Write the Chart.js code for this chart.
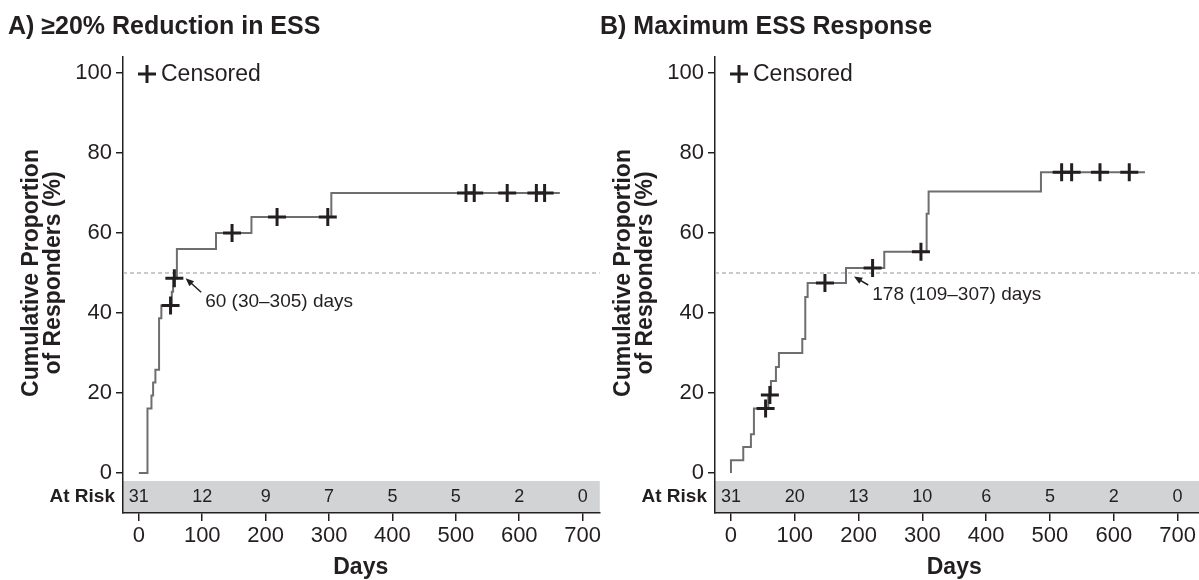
<!DOCTYPE html>
<html>
<head>
<meta charset="utf-8">
<script src="https://cdn.jsdelivr.net/npm/chart.js@4.4.1/dist/chart.umd.min.js"></script>
<style>
  html, body { margin: 0; padding: 0; background: #fff; }
  #wrap { position: relative; width: 1199px; height: 580px; overflow: hidden; }
  canvas { position: absolute; top: 0; }
  #chartA { left: 0; }
  #chartB { left: 600px; }
</style>
</head>
<body>
<div id="wrap">
  <canvas id="chartA" width="603" height="580"></canvas>
  <canvas id="chartB" width="599" height="580"></canvas>
</div>
<script>
// axis ticks
var xTicks = [0, 100, 200, 300, 400, 500, 600, 700];
var yTicks = [0, 20, 40, 60, 80, 100];

// A) >=20% reduction in ESS
var daysA = [0, 13.6, 19.9, 22.5, 26.1, 31.9, 35.5, 52, 54, 60, 121.7, 177.6, 303.6, 664];
var respA = [0, 16.1, 19.4, 22.6, 25.8, 38.7, 41.9, 45.3, 48.7, 56.0, 60.0, 64.0, 70.0, 70.0];
var censDaysA = [50, 56, 147, 218, 298, 516, 529, 581, 627, 640];
var censRespA = [41.9, 48.7, 60.0, 64.0, 64.0, 70.0, 70.0, 70.0, 70.0, 70.0];
var atRiskA = [31, 12, 9, 7, 5, 5, 2, 0];
var medianA = 60, ciA = [30, 305];

// B) maximum ESS response
var daysB = [0, 0, 19.3, 31.3, 36, 58.5, 62.7, 70.5, 75.2, 111.8, 116.5, 120.2, 180.3, 240.3, 306.7, 309.8, 485.9, 648.9];
var respB = [0, 3.2, 6.5, 9.7, 16.1, 19.5, 23.0, 26.5, 30.0, 33.5, 44.0, 47.5, 51.25, 55.3, 64.8, 70.4, 75.2, 75.2];
var censDaysB = [54.3, 61, 147.3, 222, 297.8, 518.3, 534, 578.4, 624.3];
var censRespB = [16.1, 19.5, 47.5, 51.25, 55.3, 75.2, 75.2, 75.2, 75.2];
var atRiskB = [31, 20, 13, 10, 6, 5, 2, 0];
var medianB = 178, ciB = [109, 307];

var medianLevel = 50;

var FONT = "'Liberation Sans', Arial, Helvetica, sans-serif";
var INK = '#231f20';

function toPoints(xs, ys) {
    return xs.map(function (v, i) { return { x: v, y: ys[i] }; });
}

function drawCross(ctx, x, y, r) {
    ctx.beginPath();
    ctx.moveTo(x - r, y); ctx.lineTo(x + r, y);
    ctx.moveTo(x, y - r); ctx.lineTo(x, y + r);
    ctx.stroke();
}

function makePanel(id, p) {
    var decor = {
        id: 'decor',
        beforeDraw: function (chart) {
            var ctx = chart.ctx, a = chart.chartArea;
            ctx.save();
            ctx.fillStyle = '#d1d3d4';
            ctx.fillRect(a.left, a.bottom - 32, a.right - a.left, 32);
            ctx.restore();
        },
        beforeDatasetsDraw: function (chart) {
            // dashed line at the median level
            var ctx = chart.ctx, a = chart.chartArea;
            var y = chart.scales.y.getPixelForValue(medianLevel);
            ctx.save();
            ctx.strokeStyle = '#939598';
            ctx.lineWidth = 1;
            ctx.setLineDash([4, 3]);
            ctx.beginPath();
            ctx.moveTo(a.left, y); ctx.lineTo(a.right, y);
            ctx.stroke();
            ctx.restore();
        },
        afterDraw: function (chart) {
            var ctx = chart.ctx, a = chart.chartArea;
            var xs = chart.scales.x, ys = chart.scales.y;
            ctx.save();
            ctx.fillStyle = INK;
            ctx.strokeStyle = INK;

            // panel title
            ctx.font = 'bold 25px ' + FONT;
            ctx.textAlign = 'left';
            ctx.textBaseline = 'middle';
            ctx.fillText(p.title, a.left - 115, 27);

            // legend
            ctx.lineWidth = 3;
            drawCross(ctx, a.left + 24, 74, 9);
            ctx.font = '23px ' + FONT;
            ctx.fillText('Censored', a.left + 38, 75);

            // y title
            ctx.save();
            ctx.translate(a.left - 80, ys.getPixelForValue(50));
            ctx.rotate(-Math.PI / 2);
            ctx.font = 'bold 23px ' + FONT;
            ctx.textAlign = 'center';
            ctx.fillText('Cumulative Proportion', 0, -11);
            ctx.fillText('of Responders (%)', 0, 11);
            ctx.restore();

            // x title
            ctx.font = 'bold 23px ' + FONT;
            ctx.textAlign = 'center';
            ctx.fillText('Days', xs.getPixelForValue(350), 568);

            // at risk row
            var rowY = a.bottom - 16;
            ctx.font = 'bold 19px ' + FONT;
            ctx.textAlign = 'right';
            ctx.fillText('At Risk', a.left - 8, rowY);
            ctx.font = '18px ' + FONT;
            ctx.textAlign = 'center';
            p.atRisk.forEach(function (n, i) {
                ctx.fillText(String(n), xs.getPixelForValue(xTicks[i]), rowY);
            });

            // median annotation
            var tip = [xs.getPixelForValue(p.arrow[0]), ys.getPixelForValue(p.arrow[1])];
            var tail = [xs.getPixelForValue(p.arrow[2]), ys.getPixelForValue(p.arrow[3])];
            var ang = Math.atan2(tip[1] - tail[1], tip[0] - tail[0]);
            ctx.lineWidth = 1.5;
            ctx.beginPath();
            ctx.moveTo(tail[0], tail[1]);
            ctx.lineTo(tip[0] - 5 * Math.cos(ang), tip[1] - 5 * Math.sin(ang));
            ctx.stroke();
            ctx.beginPath();
            ctx.moveTo(tip[0], tip[1]);
            ctx.lineTo(tip[0] - 9 * Math.cos(ang - 0.4), tip[1] - 9 * Math.sin(ang - 0.4));
            ctx.lineTo(tip[0] - 9 * Math.cos(ang + 0.4), tip[1] - 9 * Math.sin(ang + 0.4));
            ctx.closePath();
            ctx.fill();
            ctx.font = '19px ' + FONT;
            ctx.textAlign = 'left';
            ctx.fillText(p.median + ' (' + p.ci[0] + '\u2013' + p.ci[1] + ') days',
                tail[0] + 4, tail[1] + 10);
            ctx.restore();
        }
    };

    return new Chart(document.getElementById(id), {
        type: 'line',
        data: {
            datasets: [{
                data: toPoints(p.days, p.resp),
                order: 2,
                stepped: true,
                borderColor: '#6d6e71',
                borderWidth: 2,
                pointRadius: 0,
                fill: false
            }, {
                data: toPoints(p.censDays, p.censResp),
                order: 1,
                showLine: false,
                pointStyle: 'cross',
                pointRadius: 9,
                pointBorderWidth: 3,
                pointBorderColor: INK,
                borderColor: INK
            }]
        },
        options: {
            responsive: false,
            animation: false,
            devicePixelRatio: 1,
            layout: { autoPadding: false, padding: { top: 57, left: 0, right: 0, bottom: 0 } },
            plugins: { legend: { display: false }, tooltip: { enabled: false } },
            scales: {
                x: {
                    type: 'linear',
                    min: -25,
                    max: p.xMax,
                    afterBuildTicks: function (s) { s.ticks = xTicks.map(function (v) { return { value: v }; }); },
                    afterFit: function (s) { s.height = 67; },
                    grid: { drawOnChartArea: false, drawTicks: true, tickLength: 8, color: INK, lineWidth: 1.5 },
                    border: { display: true, color: INK, width: 1.5 },
                    ticks: { font: { family: FONT, size: 22 }, color: INK, padding: 2, maxRotation: 0, autoSkip: false }
                },
                y: {
                    type: 'linear',
                    min: -10,
                    max: 104,
                    afterBuildTicks: function (s) { s.ticks = yTicks.map(function (v) { return { value: v }; }); },
                    afterFit: function (s) { s.width = p.axisLeft; },
                    grid: { drawOnChartArea: false, drawTicks: true, tickLength: 7, color: INK, lineWidth: 1.5 },
                    border: { display: true, color: INK, width: 1.5 },
                    ticks: { font: { family: FONT, size: 22 }, color: INK, padding: 4 }
                }
            }
        },
        plugins: [decor]
    });
}

makePanel('chartA', {
    title: 'A) \u226520% Reduction in ESS',
    days: daysA, resp: respA, censDays: censDaysA, censResp: censRespA,
    atRisk: atRiskA, median: medianA, ci: ciA,
    arrow: [73.7, 48.7, 98.3, 45.2],
    axisLeft: 123, xMax: 727
});

makePanel('chartB', {
    title: 'B) Maximum ESS Response',
    days: daysB, resp: respB, censDays: censDaysB, censResp: censRespB,
    atRisk: atRiskB, median: medianB, ci: ciB,
    arrow: [192.8, 49.1, 215.2, 47.0],
    axisLeft: 115, xMax: 733.6
});
</script>
</body>
</html>
